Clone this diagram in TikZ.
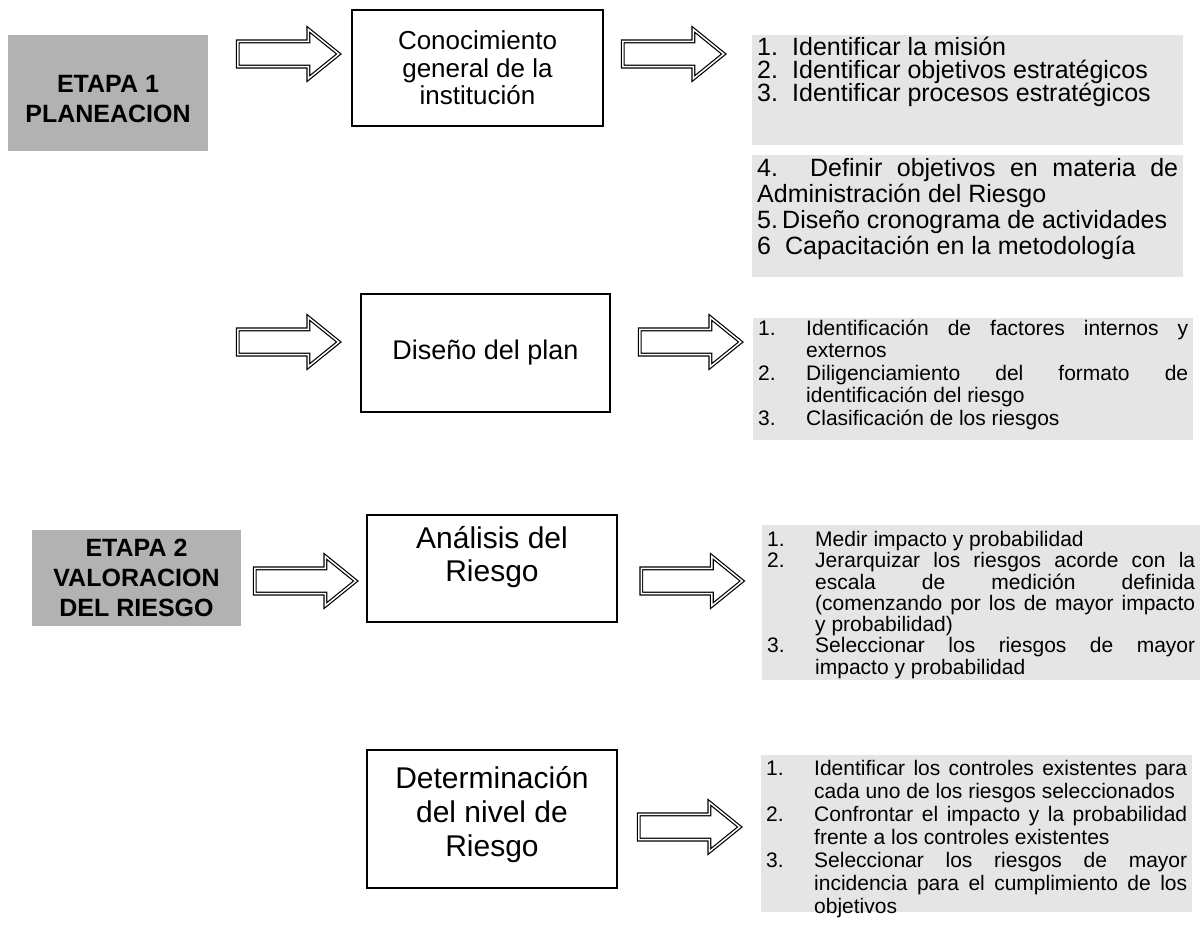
\documentclass[tikz,border=0pt]{standalone}
\usepackage{fontspec}
\setmainfont{Liberation Sans}
\usetikzlibrary{shapes.arrows}
\newcommand{\itm}[2]{\hangindent=#1\hangafter=1\noindent\makebox[#1][l]{#2}}
\begin{document}
\begin{tikzpicture}[x=1pt,y=-1pt]
\tikzstyle{etapa_style} = [fill=black!30, inner sep=0, align=center, font=\bfseries\fontsize{25}{30}\selectfont]
\tikzstyle{box_style} = [draw=black, line width=1.3, inner sep=0, align=center]
\tikzstyle{list_style} = [fill=black!10, inner xsep=5, inner ysep=0, anchor=north west]
\tikzstyle{arrow_style} = [single arrow, draw=black, line width=1.2, double=white, double distance=1.5, minimum height=101, minimum width=49, single arrow head extend=12, single arrow tip angle=78, inner xsep=0, inner ysep=12]
    \useasboundingbox (0,0) rectangle (1200,936);

    % etapa 1
    \node[etapa_style, minimum width=200, minimum height=116] (e1) at (108,93) {\rule{0pt}{30pt}ETAPA 1\\PLANEACION};
    \node[arrow_style] (a1) at (280.5,54) {};
    \node[box_style, minimum width=251, minimum height=116, font=\fontsize{26}{27.5}\selectfont] (b1) at (477.5,68) {Conocimiento\\general de la\\institución};
    \node[arrow_style] (a2) at (665.5,54) {};
    \node[list_style] (l1) at (752,35) {\parbox[t][110pt][t]{421pt}{\fontsize{25}{23}\selectfont\lineskiplimit=-20pt
        \vspace*{2pt}
        \itm{35pt}{1.}Identificar la misión\par
        \itm{35pt}{2.}Identificar objetivos estratégicos\par
        \itm{35pt}{3.}Identificar procesos estratégicos\par}};
    \node[list_style] (l2) at (752,155) {\parbox[t][122pt][t]{421pt}{\fontsize{25}{26}\selectfont
        \vspace*{3pt}
        \noindent 4. Definir objetivos en materia de\linebreak Administración del Riesgo\par
        \itm{25pt}{5.}Diseño cronograma de actividades\par
        \itm{28pt}{6}Capacitación en la metodología\par}};

    \node[arrow_style] (a3) at (280.5,342) {};
    \node[box_style, minimum width=249, minimum height=118, font=\fontsize{27}{30}\selectfont] (b2) at (485.5,353) {Diseño del plan};
    \node[arrow_style] (a4) at (682.5,342) {};
    \node[list_style] (l3) at (753,318) {\parbox[t][122pt][t]{430pt}{\fontsize{21}{22.5}\selectfont
        \vspace*{1.5pt}
        \itm{48pt}{1.}Identificación de factores internos y\linebreak externos\par
        \itm{48pt}{2.}Diligenciamiento del formato de\linebreak identificación del riesgo\par
        \itm{48pt}{3.}Clasificación de los riesgos\par}};

    % etapa 2
    \node[etapa_style, minimum width=209, minimum height=96] (e2) at (136.5,578) {ETAPA 2\\VALORACION\\DEL RIESGO};
    \node[arrow_style] (a5) at (297.5,581) {};
    \node[box_style, minimum width=250, minimum height=107, font=\fontsize{30}{33}\selectfont] (b3) at (492,568.5) {Análisis del\\Riesgo\rule[-30pt]{0pt}{0pt}};
    \node[arrow_style] (a6) at (684,581) {};
    \node[list_style] (l4) at (762,525) {\parbox[t][155pt][t]{428pt}{\fontsize{21}{21.3}\selectfont\lineskiplimit=-20pt
        \vspace*{6pt}
        \itm{48pt}{1.}Medir impacto y probabilidad\par
        \itm{48pt}{2.}Jerarquizar los riesgos acorde con la\linebreak escala de medición definida\linebreak (comenzando por los de mayor impacto\linebreak y probabilidad)\par
        \itm{48pt}{3.}Seleccionar los riesgos de mayor\linebreak impacto y probabilidad\par}};

    \node[box_style, minimum width=250, minimum height=138, font=\fontsize{30}{34}\selectfont] (b4) at (492,819) {Determinación\\del nivel de\\Riesgo\rule[-16pt]{0pt}{0pt}};
    \node[arrow_style] (a7) at (681.5,827) {};
    \node[list_style] (l5) at (761,755) {\parbox[t][157pt][t]{421pt}{\fontsize{21}{23}\selectfont
        \vspace*{5pt}
        \itm{48pt}{1.}Identificar los controles existentes para\linebreak cada uno de los riesgos seleccionados\par
        \itm{48pt}{2.}Confrontar el impacto y la probabilidad\linebreak frente a los controles existentes\par
        \itm{48pt}{3.}Seleccionar los riesgos de mayor\linebreak incidencia para el cumplimiento de los\linebreak objetivos\par}};
\end{tikzpicture}
\end{document}
